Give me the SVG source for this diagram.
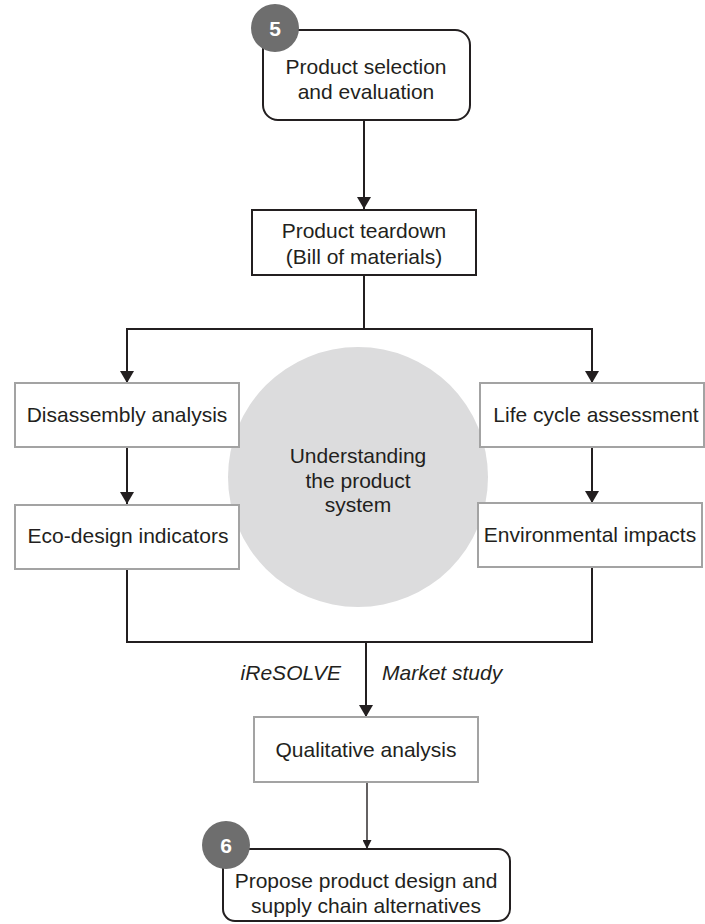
<svg xmlns="http://www.w3.org/2000/svg" width="705" height="924" viewBox="0 0 705 924">
<style>
text{font-family:"Liberation Sans",Arial,sans-serif;font-size:21px;fill:#231f20;text-anchor:middle}
.it{font-style:italic}
.badge{fill:#6e6e6e}
.bt{fill:#fff;font-weight:bold;font-size:21px}
.kb{fill:#fff;stroke:#231f20;stroke-width:2}
.gb{fill:#fff;stroke:#a3a3a3;stroke-width:2}
.ln{fill:none;stroke:#231f20;stroke-width:2}
.thin{fill:none;stroke:#231f20;stroke-width:1.4}
</style>
<defs>
<marker id="ah" viewBox="0 0 12 14" refX="12" refY="7" markerWidth="12" markerHeight="14" markerUnits="userSpaceOnUse" orient="auto">
<path d="M0,0 L12,7 L0,14 Z" fill="#231f20"/>
</marker>
<marker id="ahs" viewBox="0 0 10 10" refX="10" refY="5" markerWidth="9" markerHeight="9" markerUnits="userSpaceOnUse" orient="auto">
<path d="M0,0 L10,5 L0,10 Z" fill="#231f20"/>
</marker>
</defs>
<rect width="705" height="924" fill="#fff"/>
<g id="circle-understanding">
<circle cx="358" cy="477" r="130" fill="#dcdcdd"/>
<text x="358" y="463">Understanding</text>
<text x="358" y="488">the product</text>
<text x="358" y="512">system</text>
</g>
<g id="connectors">
<line class="ln" x1="364" y1="120" x2="364" y2="209" marker-end="url(#ah)"/>
<polyline class="ln" points="364,275 364,329"/>
<polyline class="ln" points="127,383 127,329 592,329 592,383" marker-end="url(#ah)"/>
<path class="ln" d="M127,329 L127,383" marker-end="url(#ah)"/>
<line class="ln" x1="127" y1="447" x2="127" y2="504" marker-end="url(#ah)"/>
<line class="ln" x1="592" y1="447" x2="592" y2="503" marker-end="url(#ah)"/>
<polyline class="ln" points="127,569 127,642 592,642 592,567"/>
<line class="ln" x1="366" y1="642" x2="366" y2="717" marker-end="url(#ah)"/>
<line class="thin" x1="367" y1="782" x2="367" y2="849" marker-end="url(#ahs)"/>
<text class="it" x="341" y="680" style="text-anchor:end">iReSOLVE</text>
<text class="it" x="382" y="680" style="text-anchor:start">Market study</text>
</g>
<g id="node-product-selection">
<rect class="kb" x="263" y="30" width="207" height="90" rx="15"/>
<circle class="badge" cx="275" cy="28" r="24"/>
<text class="bt" x="275" y="36">5</text>
<text x="366" y="74">Product selection</text>
<text x="366" y="99">and evaluation</text>
</g>
<g id="node-teardown">
<rect class="kb" x="252" y="210" width="224" height="65"/>
<text x="364" y="238">Product teardown</text>
<text x="364" y="264">(Bill of materials)</text>
</g>
<g id="node-disassembly">
<rect class="gb" x="15" y="383" width="224" height="64"/>
<text x="127" y="422">Disassembly analysis</text>
</g>
<g id="node-eco-design">
<rect class="gb" x="15" y="505" width="224" height="64"/>
<text x="128" y="543">Eco-design indicators</text>
</g>
<g id="node-lca">
<rect class="gb" x="480" y="383" width="224" height="64"/>
<text x="596" y="422">Life cycle assessment</text>
</g>
<g id="node-environmental">
<rect class="gb" x="478" y="503" width="224" height="64"/>
<text x="590" y="542">Environmental impacts</text>
</g>
<g id="node-qualitative">
<rect class="gb" x="254" y="717" width="224" height="65"/>
<text x="366" y="757">Qualitative analysis</text>
</g>
<g id="node-propose">
<rect class="kb" x="223" y="849" width="287" height="72" rx="12"/>
<circle class="badge" cx="226" cy="845" r="24"/>
<text class="bt" x="226" y="853">6</text>
<text x="366" y="888">Propose product design and</text>
<text x="366" y="913">supply chain alternatives</text>
</g>
</svg>
